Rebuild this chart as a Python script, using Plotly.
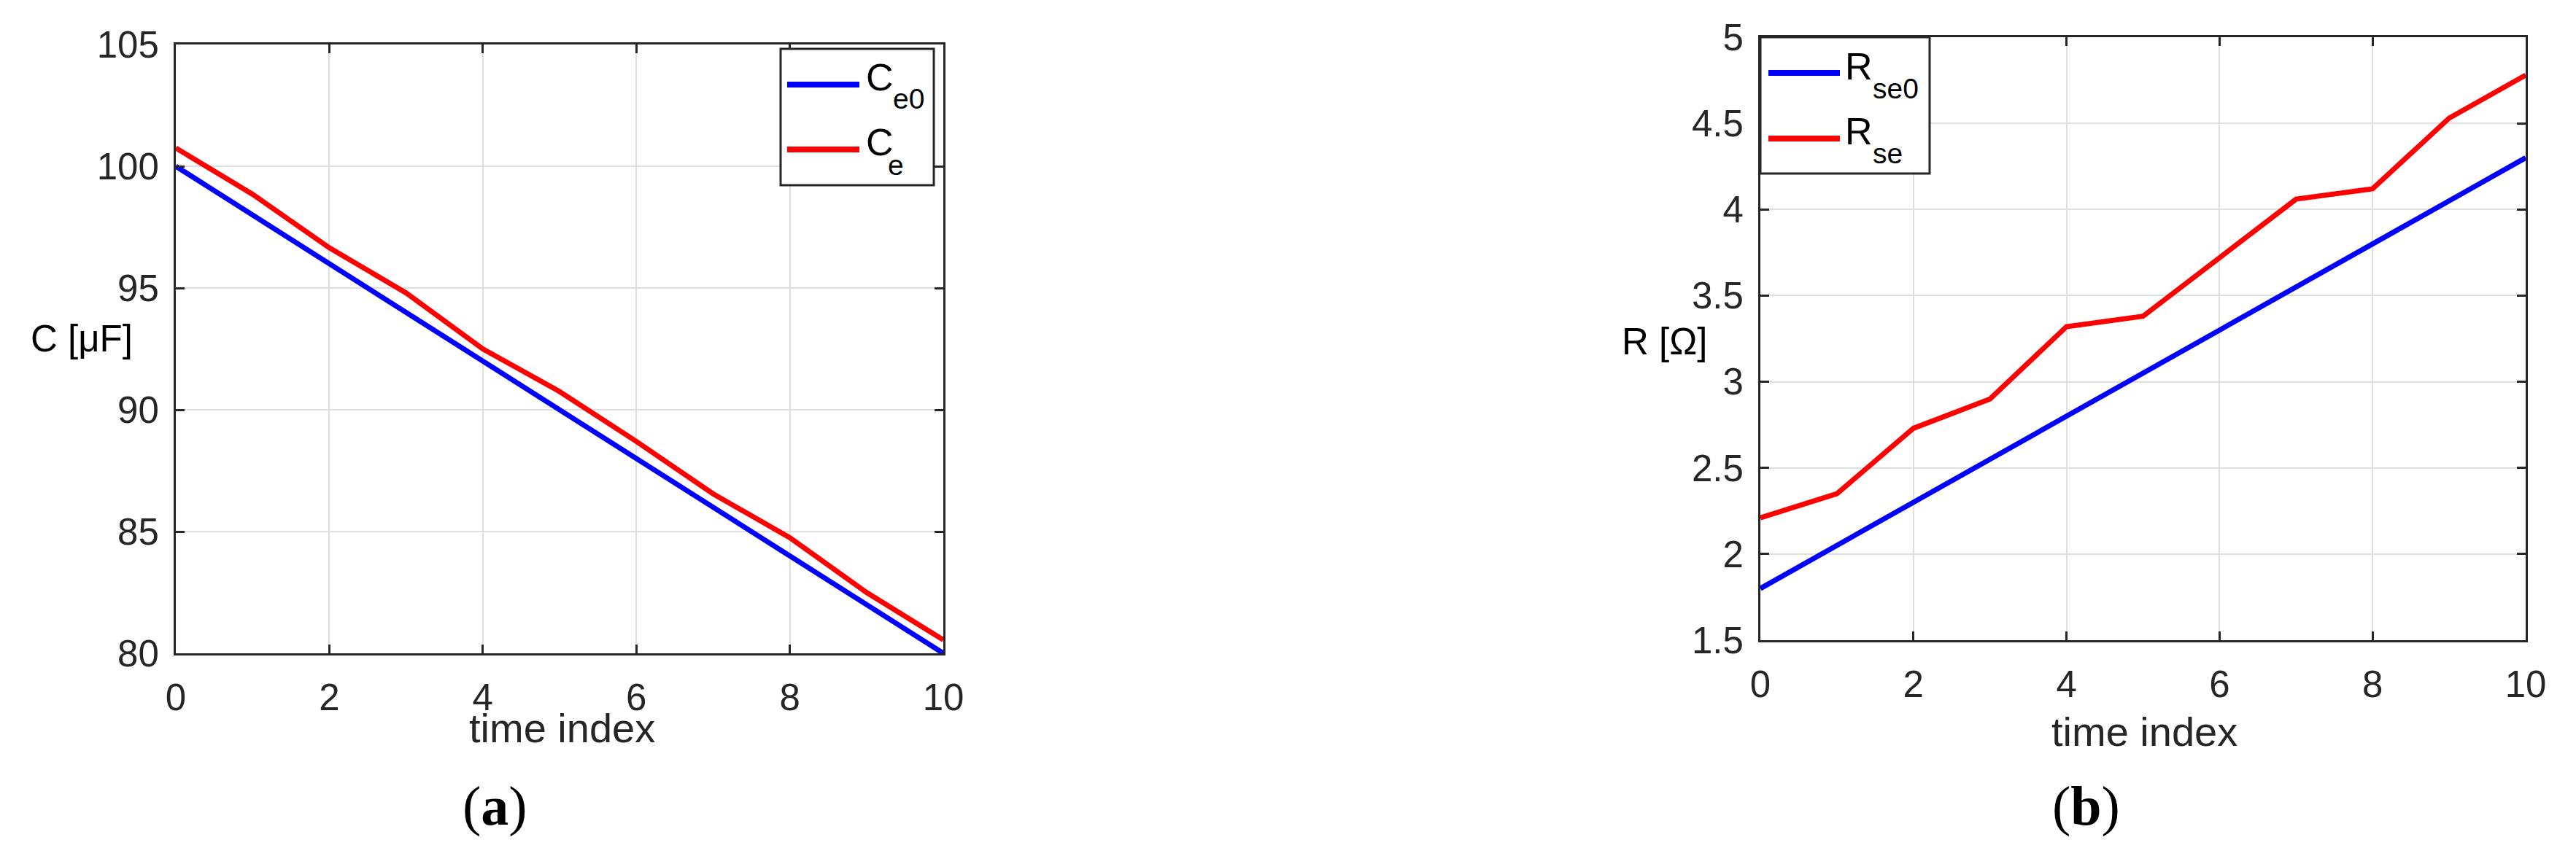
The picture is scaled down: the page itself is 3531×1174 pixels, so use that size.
import plotly.graph_objects as go
from plotly.subplots import make_subplots

# data
time_index = [0, 1, 2, 3, 4, 5, 6, 7, 8, 9, 10]
c_e0 = [100, 98, 96, 94, 92, 90, 88, 86, 84, 82, 80]
c_e = [100.75, 98.85, 96.65, 94.8, 92.5, 90.75, 88.7, 86.55, 84.75, 82.5, 80.55]
r_se0 = [1.8, 2.05, 2.3, 2.55, 2.8, 3.05, 3.3, 3.55, 3.8, 4.05, 4.3]
r_se = [2.21, 2.35, 2.73, 2.9, 3.32, 3.38, 3.72, 4.06, 4.12, 4.53, 4.78]

c_ticks = [80, 85, 90, 95, 100, 105]
r_ticks = [1.5, 2, 2.5, 3, 3.5, 4, 4.5, 5]
x_ticks = [0, 2, 4, 6, 8, 10]

W, H = 3531, 1174
AX = '#262626'
FONT = 'Liberation Sans, Arial, Helvetica, sans-serif'
SERIF = 'Liberation Serif, Times New Roman, serif'


def px_x(x):
    return x / W


def px_y(y):
    return 1 - y / H


fig = make_subplots(rows=1, cols=2)

fig.add_trace(go.Scatter(x=time_index, y=c_e0, mode='lines', name='C_e0',
                         line=dict(color='#0000ff', width=7)), row=1, col=1)
fig.add_trace(go.Scatter(x=time_index, y=c_e, mode='lines', name='C_e',
                         line=dict(color='#ff0000', width=7)), row=1, col=1)
fig.add_trace(go.Scatter(x=time_index, y=r_se0, mode='lines', name='R_se0',
                         line=dict(color='#0000ff', width=7)), row=1, col=2)
fig.add_trace(go.Scatter(x=time_index, y=r_se, mode='lines', name='R_se',
                         line=dict(color='#ff0000', width=7)), row=1, col=2)

axis_style = dict(
    showline=True, linewidth=3, linecolor=AX, mirror='ticks',
    ticks='inside', ticklen=12, tickwidth=3, tickcolor=AX,
    showgrid=True, gridcolor='#dfdfdf', gridwidth=2, zeroline=False,
    automargin=False,
    tickfont=dict(family=FONT, size=51, color=AX),
)

fig.update_xaxes(axis_style, range=[0, 10], tickvals=x_ticks, ticklabelstandoff=14)
fig.update_yaxes(axis_style, ticklabelstandoff=10)
fig.update_yaxes(range=[80, 105], tickvals=c_ticks, row=1, col=1)
fig.update_yaxes(range=[1.5, 5], tickvals=r_ticks, row=1, col=2)

fig.update_layout(
    xaxis=dict(domain=[px_x(233), px_x(1285)]),
    yaxis=dict(domain=[px_y(888), px_y(53)]),
    xaxis2=dict(domain=[px_x(2405), px_x(3454)]),
    yaxis2=dict(domain=[px_y(870), px_y(43)]),
)

annotations = []
shapes = []


def add_text(text, x, y, size, color='black', family=FONT, xanchor='left'):
    annotations.append(dict(text=text, x=px_x(x), y=px_y(y), xref='paper', yref='paper',
                            xanchor=xanchor, yanchor='middle', showarrow=False,
                            font=dict(family=family, size=size, color=color)))


# axis labels
add_text('C [μF]', 176, 456, 51, xanchor='right')
add_text('R [Ω]', 2334, 460, 51, xanchor='right')
add_text('time index', 762, 990, 56, color=AX, xanchor='center')
add_text('time index', 2931, 995, 56, color=AX, xanchor='center')

# panel captions
add_text('(<b>a</b>)', 670, 1097, 76, family=SERIF, xanchor='center')
add_text('(<b>b</b>)', 2851, 1097, 76, family=SERIF, xanchor='center')

# legends drawn as boxes with line samples; symbol + subscript placed separately
legends = [
    dict(box=(1062, 59, 1272, 246), line_x=(1071, 1170),
         entries=[('C', 'e0', '#0000ff', 108, 1177, 98, 1214, 128),
                  ('C', 'e', '#ff0000', 197, 1177, 187, 1207, 219)]),
    dict(box=(2405, 43, 2637, 230), line_x=(2416, 2514),
         entries=[('R', 'se0', '#0000ff', 92, 2519, 83, 2557, 114),
                  ('R', 'se', '#ff0000', 182, 2519, 172, 2557, 202)]),
]
for lg in legends:
    x0, y0, x1, y1 = lg['box']
    shapes.append(dict(type='rect', xref='paper', yref='paper',
                       x0=px_x(x0), x1=px_x(x1), y0=px_y(y1), y1=px_y(y0),
                       line=dict(color=AX, width=3), fillcolor='white', layer='above'))
    for main, sub, color, ly, mx, my, sx, sy in lg['entries']:
        shapes.append(dict(type='line', xref='paper', yref='paper',
                           x0=px_x(lg['line_x'][0]), x1=px_x(lg['line_x'][1]),
                           y0=px_y(ly), y1=px_y(ly),
                           line=dict(color=color, width=8), layer='above'))
        add_text(main, mx, my, 52)
        add_text(sub, sx, sy, 39)

fig.update_layout(
    template='none',
    width=W, height=H,
    margin=dict(l=0, r=0, t=0, b=0),
    paper_bgcolor='white', plot_bgcolor='white',
    showlegend=False,
    annotations=annotations,
    shapes=shapes,
)

fig.write_html("out.html")
